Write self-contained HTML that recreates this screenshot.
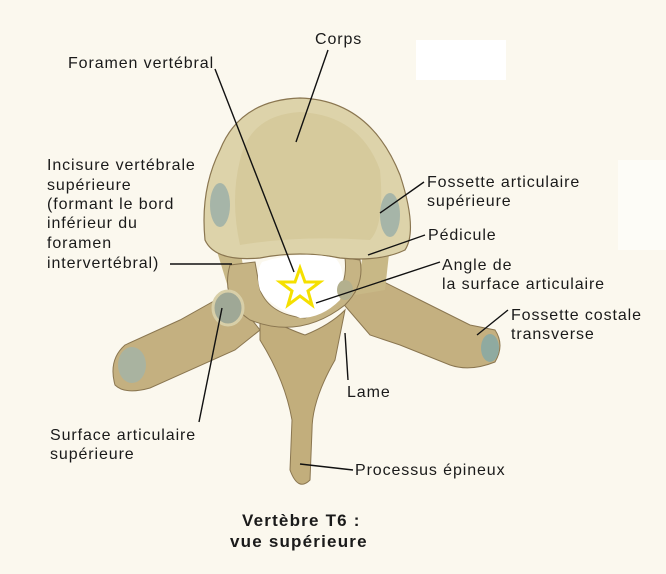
<!DOCTYPE html>
<html><head><style>
body{margin:0;background:#fbf8ee;}
svg{display:block;}
text{font-family:"Liberation Sans",sans-serif;font-size:16px;letter-spacing:0.9px;fill:#1a1a1a;}
</style></head><body>
<svg width="666" height="574" viewBox="0 0 666 574">
<rect width="666" height="574" fill="#fbf8ee"/>
<rect x="416" y="40" width="90" height="40" fill="#ffffff"/>
<rect x="618" y="160" width="48" height="90" fill="#fdfcf7"/>
<path d="M230 292 L180 320 L125 345 Q108 360 115 385 Q125 395 150 388 L235 350 L260 330 Z" fill="#c4b080" stroke="#8a7650" stroke-width="1"/>
<path d="M340 300 L380 280 L420 300 L470 325 L495 330 Q505 345 495 362 Q470 372 450 365 L400 345 L370 335 Z" fill="#c4b080" stroke="#8a7650" stroke-width="1"/>
<ellipse cx="132" cy="365" rx="14" ry="18" fill="#a9b3a0"/>
<ellipse cx="490" cy="348" rx="9" ry="14" fill="#8faaa0"/>
<path d="M260 315 Q290 330 305 335 Q330 325 345 310 L335 360 Q312 400 312 430 L310 480 Q298 492 290 470 L292 420 Q285 380 260 340 Z" fill="#c2ae7c" stroke="#8a7650" stroke-width="1"/>
<path d="M215 245 L240 250 L250 300 L232 300 Z" fill="#c8b886"/>
<path d="M365 245 L390 245 L385 290 L355 295 Z" fill="#c8b886"/>
<path d="M230 265 Q220 300 250 320 Q300 340 345 305 Q365 285 360 260 L345 258 Q350 300 305 318 Q270 315 260 290 L255 262 Z" fill="#c6b484" stroke="#8a7650" stroke-width="1"/>
<path d="M220 150 Q240 100 300 98 Q370 100 400 175 Q418 230 405 250 Q380 262 340 258 Q300 250 260 258 Q215 262 205 240 Q200 190 220 150 Z" fill="#ddd3aa" stroke="#8a7650" stroke-width="1.2"/>
<path d="M240 160 Q250 115 300 112 Q360 115 380 170 Q385 225 370 240 Q300 235 240 245 Q230 200 240 160 Z" fill="#d6ca9c"/>
<ellipse cx="220" cy="205" rx="10" ry="22" fill="#a6b5a8"/>
<ellipse cx="390" cy="215" rx="10" ry="22" fill="#a6b5a8"/>
<path d="M262 262 Q300 250 335 258 Q348 270 340 300 Q322 318 300 318 Q268 305 260 290 Q255 272 262 262 Z" fill="#ffffff"/>
<ellipse cx="228" cy="308" rx="15" ry="17" fill="#9fa896" stroke="#d8cfa8" stroke-width="3"/>
<ellipse cx="345" cy="290" rx="8" ry="10" fill="#b3b08e"/>
<polygon points="300,268 305,282 320,282 308,291 312,305 300,296 288,305 292,291 280,282 295,282" fill="none" stroke="#f5e000" stroke-width="3"/>
<g stroke="#111" stroke-width="1.4" fill="none">
<line x1="215" y1="69" x2="294" y2="272"/>
<line x1="328" y1="50" x2="296" y2="142"/>
<line x1="170" y1="264" x2="232" y2="264"/>
<line x1="424" y1="182" x2="380" y2="213"/>
<line x1="425" y1="235" x2="368" y2="255"/>
<line x1="440" y1="262" x2="316" y2="303"/>
<line x1="508" y1="310" x2="477" y2="335"/>
<line x1="345" y1="333" x2="348" y2="380"/>
<line x1="222" y1="308" x2="199" y2="422"/>
<line x1="300" y1="464" x2="353" y2="470"/>
</g>
<text x="68" y="68">Foramen vertébral</text>
<text x="315" y="44">Corps</text>
<text x="47" y="170">Incisure vertébrale</text>
<text x="47" y="190">supérieure</text>
<text x="47" y="209">(formant le bord</text>
<text x="47" y="228">inférieur du</text>
<text x="47" y="248">foramen</text>
<text x="47" y="268">intervertébral)</text>
<text x="427" y="187">Fossette articulaire</text>
<text x="427" y="206">supérieure</text>
<text x="428" y="240">Pédicule</text>
<text x="442" y="270">Angle de</text>
<text x="442" y="289">la surface articulaire</text>
<text x="511" y="320">Fossette costale</text>
<text x="511" y="339">transverse</text>
<text x="347" y="397">Lame</text>
<text x="50" y="440">Surface articulaire</text>
<text x="50" y="459">supérieure</text>
<text x="355" y="475">Processus épineux</text>
<text x="242" y="526" style="font-weight:bold;font-size:17px;letter-spacing:1.2px">Vertèbre T6 :</text>
<text x="230" y="547" style="font-weight:bold;font-size:17px;letter-spacing:1.2px">vue supérieure</text>
</svg>
</body></html>
